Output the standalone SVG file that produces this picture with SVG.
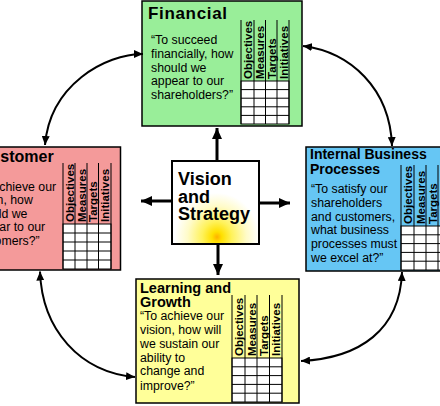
<svg xmlns="http://www.w3.org/2000/svg" width="440" height="406" viewBox="0 0 440 406">
<defs>
<style>
.box{stroke:#000;stroke-width:1.5}
.t{font-family:"Liberation Sans",Arial,sans-serif;font-weight:bold;fill:#000}
.q{font-family:"Liberation Sans",Arial,sans-serif;font-size:12.3px;fill:#000}
.c{font-family:"Liberation Sans",Arial,sans-serif;font-weight:bold;font-size:11.5px;fill:#000}
.cell{fill:#fff;stroke:#000;stroke-width:1}
.gl{stroke:#000;stroke-width:1;fill:none}
.big{stroke:#000;stroke-width:3;fill:none;marker-end:url(#bigHead)}
.arc{stroke:#000;stroke-width:2;fill:none;marker-start:url(#smallHead);marker-end:url(#smallHead)}
</style>
<marker id="bigHead" markerUnits="userSpaceOnUse" markerWidth="12" markerHeight="10" refX="11" refY="5" orient="auto">
<path d="M0,0 L11,5 L0,10 z" fill="#000"/>
</marker>
<marker id="smallHead" markerUnits="userSpaceOnUse" markerWidth="10" markerHeight="8" refX="9" refY="4" orient="auto-start-reverse">
<path d="M0,0 L9,4 L0,8 z" fill="#000"/>
</marker>
<radialGradient id="glow" gradientUnits="userSpaceOnUse" cx="217" cy="237" r="42" gradientTransform="translate(217 237) scale(1 1.05) translate(-217 -237)">
<stop offset="0" stop-color="#FFB000"/>
<stop offset="0.12" stop-color="#FFE000"/>
<stop offset="0.35" stop-color="#FFF25A"/>
<stop offset="0.7" stop-color="#FFFBC8"/>
<stop offset="1" stop-color="#FFFFFF"/>
</radialGradient>
</defs>
<rect width="440" height="406" fill="#fff"/>

<g id="financial">
<rect class="box" x="142" y="1" width="160" height="125" fill="#99EE99"/>
<text class="t" x="148" y="19" font-size="17" textLength="79">Financial</text>
<text class="q" x="151" y="44">“To succeed</text>
<text class="q" x="151" y="57.8">financially, how</text>
<text class="q" x="151" y="71.5">should we</text>
<text class="q" x="151" y="85.3">appear to our</text>
<text class="q" x="151" y="99">shareholders?”</text>
<rect class="cell" x="241" y="81" width="48" height="43"/>
<path class="gl" d="M241,20V124M254,20V124M265.5,20V124M277,20V124M289,20V124M241,89.6H289M241,98.2H289M241,106.8H289M241,115.4H289"/>
<text class="c" transform="translate(252,79) rotate(-90)">Objectives</text>
<text class="c" transform="translate(264,79) rotate(-90)">Measures</text>
<text class="c" transform="translate(275.5,79) rotate(-90)">Targets</text>
<text class="c" transform="translate(287.5,79) rotate(-90)">Initiatives</text>
</g>

<g id="customer">
<rect class="box" x="-40" y="147" width="160.5" height="123" fill="#F49A9A"/>
<text class="t" x="-21" y="162" font-size="16">Customer</text>
<text class="q" x="-28" y="190.5">“To achieve our</text>
<text class="q" x="-28" y="204">vision, how</text>
<text class="q" x="-28" y="217.5">should we</text>
<text class="q" x="-28" y="231">appear to our</text>
<text class="q" x="-28" y="244.5">customers?”</text>
<rect class="cell" x="63" y="224" width="48" height="45"/>
<path class="gl" d="M63,163V269M75,163V269M87,163V269M98.5,163V269M111,163V269M63,233H111M63,242H111M63,251H111M63,260H111"/>
<text class="c" transform="translate(74,222) rotate(-90)">Objectives</text>
<text class="c" transform="translate(85.5,222) rotate(-90)">Measures</text>
<text class="c" transform="translate(97,222) rotate(-90)">Targets</text>
<text class="c" transform="translate(109,222) rotate(-90)">Initiatives</text>
</g>

<g id="internal">
<rect class="box" x="306" y="147" width="150" height="124" fill="#66C6F4"/>
<text class="t" x="310" y="159" font-size="14">Internal Business</text>
<text class="t" x="310" y="174" font-size="14">Processes</text>
<text class="q" x="311" y="193">“To satisfy our</text>
<text class="q" x="311" y="207">shareholders</text>
<text class="q" x="311" y="220.5">and customers,</text>
<text class="q" x="311" y="234">what business</text>
<text class="q" x="311" y="248">processes must</text>
<text class="q" x="311" y="262">we excel at?”</text>
<rect class="cell" x="401" y="226" width="49" height="44"/>
<path class="gl" d="M401,165V270M414,165V270M426,165V270M438,165V270M401,234.8H450M401,243.6H450M401,252.4H450M401,261.2H450"/>
<text class="c" transform="translate(412,224) rotate(-90)">Objectives</text>
<text class="c" transform="translate(424.5,224) rotate(-90)">Measures</text>
<text class="c" transform="translate(436.5,224) rotate(-90)">Targets</text>
</g>

<g id="learning">
<rect class="box" x="136" y="279" width="163" height="124" fill="#FFFF99"/>
<text class="t" x="140" y="293" font-size="14.5">Learning and</text>
<text class="t" x="140" y="307" font-size="14.5">Growth</text>
<text class="q" x="140" y="320">“To achieve our</text>
<text class="q" x="140" y="333.5">vision, how will</text>
<text class="q" x="140" y="347.5">we sustain our</text>
<text class="q" x="140" y="361.5">ability to</text>
<text class="q" x="140" y="375">change and</text>
<text class="q" x="140" y="389.5">improve?”</text>
<rect class="cell" x="232" y="358" width="50" height="44"/>
<path class="gl" d="M232,295V402M245,295V402M257,295V402M269.5,295V402M282,295V402M232,366.8H282M232,375.6H282M232,384.4H282M232,393.2H282"/>
<text class="c" transform="translate(243,356) rotate(-90)">Objectives</text>
<text class="c" transform="translate(255.5,356) rotate(-90)">Measures</text>
<text class="c" transform="translate(267.5,356) rotate(-90)">Targets</text>
<text class="c" transform="translate(280,356) rotate(-90)">Initiatives</text>
</g>

<g id="vision">
<rect x="172" y="161" width="87" height="83" fill="url(#glow)" stroke="#000" stroke-width="2"/>
<text class="t" x="178" y="185" font-size="18">Vision</text>
<text class="t" x="178" y="203" font-size="18">and</text>
<text class="t" x="178" y="220" font-size="18">Strategy</text>
</g>

<g id="connectors">
<line class="big" x1="217" y1="161" x2="217" y2="128"/>
<line class="big" x1="218" y1="244" x2="218" y2="275"/>
<line class="big" x1="172" y1="201" x2="141" y2="201"/>
<line class="big" x1="259" y1="203" x2="290" y2="203"/>
<path class="arc" d="M143,54 C105,54 50,85 45,145"/>
<path class="arc" d="M303,46 C350,52 390,88 392,146"/>
<path class="arc" d="M40,271.5 C42,330 80,372 135,377"/>
<path class="arc" d="M402,272 C400,330 360,358 301,361"/>
</g>
</svg>
